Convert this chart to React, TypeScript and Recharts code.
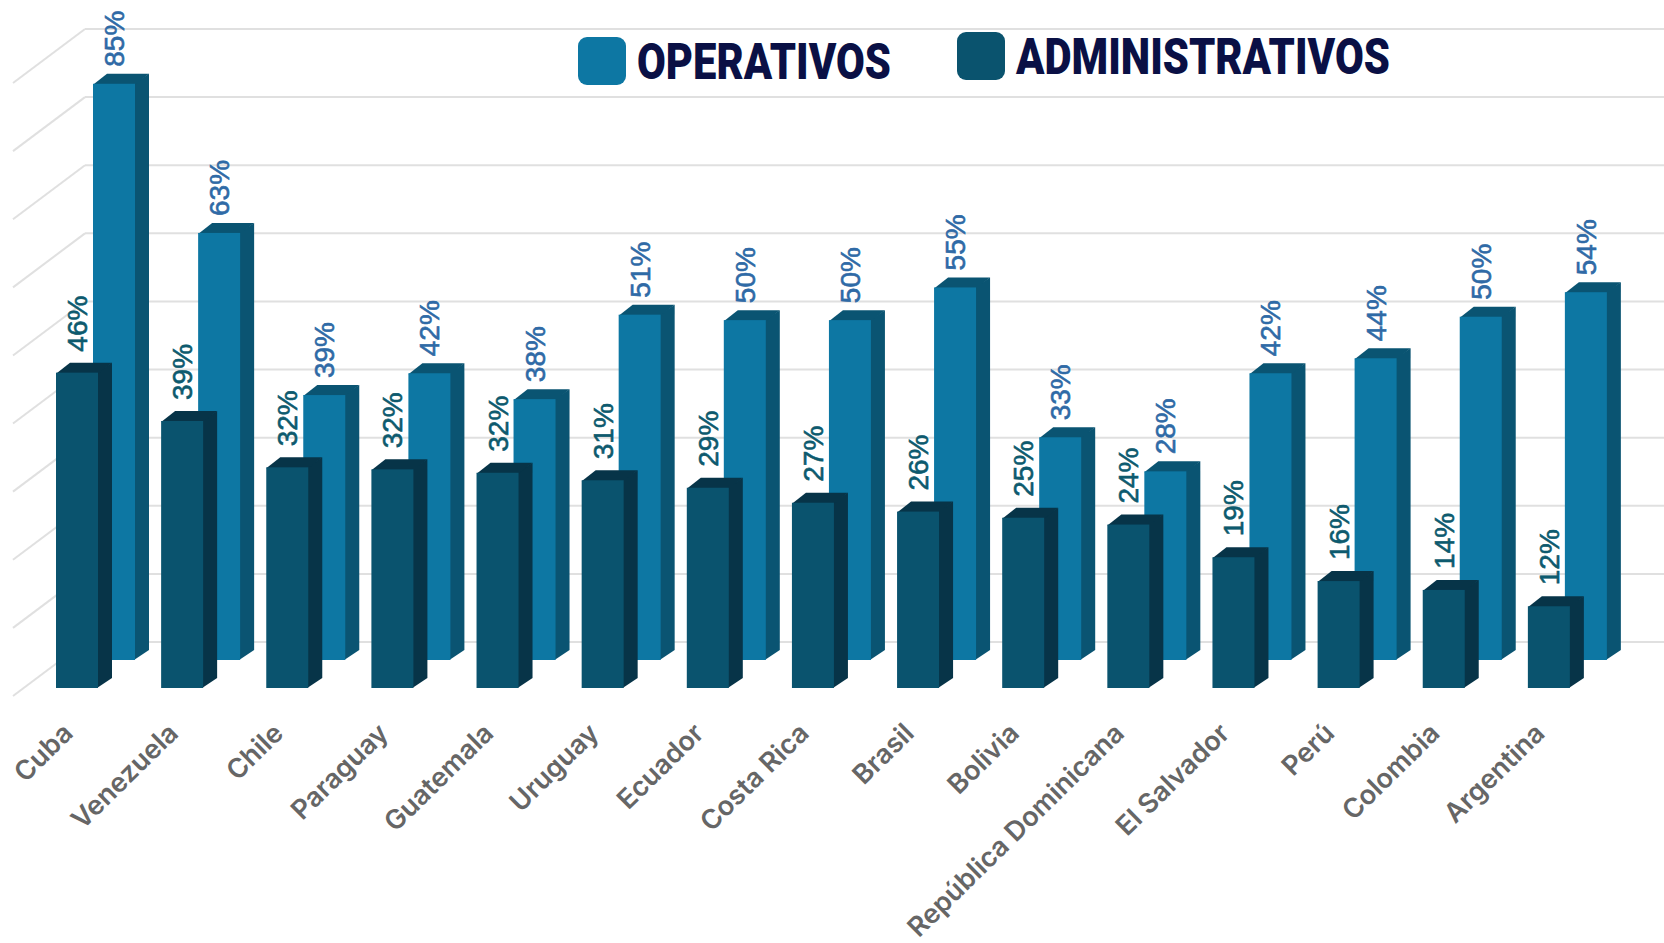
import { BarChart, Bar, XAxis, YAxis, CartesianGrid, LabelList, Legend } from "recharts";

const paises = ["Cuba", "Venezuela", "Chile", "Paraguay", "Guatemala", "Uruguay", "Ecuador", "Costa Rica", "Brasil", "Bolivia", "República Dominicana", "El Salvador", "Perú", "Colombia", "Argentina"];
// bar heights, the printed labels are these rounded
const administrativos = [46.3, 39.2, 32.4, 32.1, 31.6, 30.5, 29.4, 27.2, 25.9, 25, 24, 19.2, 15.7, 14.4, 12];
const operativos = [84.6, 62.7, 38.9, 42.1, 38.3, 50.7, 49.9, 49.9, 54.7, 32.7, 27.7, 42.1, 44.3, 50.4, 54];
const yTicks = [0, 10, 20, 30, 40, 50, 60, 70, 80, 90];

const chartData = paises.map((pais, i) => ({
  pais,
  administrativos: administrativos[i],
  operativos: operativos[i],
}));

// fake 3d: every bar is pushed off the back wall, the depth is drawn on its side and top
const DEPTH_X = 14;
const DEPTH_Y = 10;
const SHIFT_X = -42;
const OP_SHIFT_Y = 18;
const ADM_SHIFT_Y = 46;

function make3dBar(shiftY: number, front: string, side: string, top: string) {
  return function Bar3d(props: any) {
    const x = props.x + SHIFT_X;
    const y = props.y + shiftY;
    const w = props.width;
    const h = props.height;
    return (
      <g>
        <polygon points={`${x + w - 1},${y} ${x + w + DEPTH_X},${y - DEPTH_Y} ${x + w + DEPTH_X},${y + h - DEPTH_Y} ${x + w - 1},${y + h}`} fill={side} />
        <polygon points={`${x},${y + 1} ${x + DEPTH_X},${y - DEPTH_Y} ${x + w + DEPTH_X},${y - DEPTH_Y} ${x + w},${y + 1}`} fill={top} />
        <rect x={x} y={y} width={w} height={h} fill={front} />
      </g>
    );
  };
}

function makeLabel(shiftY: number, gap: number, color: string) {
  return function BarLabel(props: any) {
    const cx = props.x + SHIFT_X + props.width / 2 + 10;
    const cy = props.y + shiftY - DEPTH_Y - gap;
    return (
      <text x={cx} y={cy} transform={`rotate(-90 ${cx} ${cy})`} fill={color} stroke={color} strokeWidth={0.6} fontFamily="Liberation Sans" fontSize={28} textAnchor="start">
        {Math.round(props.value)}%
      </text>
    );
  };
}

// back wall line plus the stretch of floor running to the front left
function GridLine(props: any) {
  return (
    <g>
      <line x1={props.x1} y1={props.y1} x2={props.x2 + 2} y2={props.y2} stroke="#e0e0e0" strokeWidth={2} />
      <line x1={props.x1} y1={props.y1} x2={props.x1 - 72} y2={props.y1 + 54} stroke="#e0e0e0" strokeWidth={2} />
    </g>
  );
}

function NoTick() {
  return <g />;
}

function PaisTick(props: any) {
  const x = props.x - 63;
  const y = props.y + 85;
  return (
    <text x={x} y={y} transform={`rotate(-44.5 ${x} ${y})`} textAnchor="end" fill="#666666" fontFamily="Inter" fontWeight={600} fontSize={27}>
      {props.payload.value}
    </text>
  );
}

const legendPos = [
  { box: 578, boxY: 37, text: 637, textY: 79, len: 254 },
  { box: 957, boxY: 32, text: 1016, textY: 74, len: 374 },
];

function Leyenda({ payload }: any) {
  return (
    <svg width={1664} height={100} style={{ display: "block" }}>
      {(payload || []).map((item: any, i: number) => (
        <g key={item.value}>
          <rect x={legendPos[i].box} y={legendPos[i].boxY} width={48} height={48} rx={9} fill={item.color} />
          <text x={legendPos[i].text} y={legendPos[i].textY} textLength={legendPos[i].len} lengthAdjust="spacingAndGlyphs" fill="#0a1045" fontFamily="Roboto" fontWeight={900} fontSize={50}>
            {item.value}
          </text>
        </g>
      ))}
    </svg>
  );
}

export default function App() {
  return (
    <div style={{ position: "absolute", left: 0, top: 0, width: 1664, height: 943, background: "#fff" }}>
      <BarChart width={1664} height={943} data={chartData} margin={{ top: 29, right: 2, bottom: 0, left: 0 }} barSize={42} barGap={-79}>
        <CartesianGrid vertical={false} horizontal={GridLine} syncWithTicks />
        <XAxis dataKey="pais" axisLine={false} tickLine={false} interval={0} height={301} tick={PaisTick} />
        <YAxis domain={[0, 90]} ticks={yTicks} width={85} axisLine={false} tickLine={false} tick={NoTick} />
        <Legend layout="horizontal" verticalAlign="middle" itemSorter={null} content={Leyenda} wrapperStyle={{ position: "absolute", left: 0, top: 0, width: 1664 }} />
        <Bar dataKey="operativos" name="OPERATIVOS" fill="#0d77a3" isAnimationActive={false} shape={make3dBar(OP_SHIFT_Y, "#0d77a3", "#0a5472", "#0a5472")}>
          <LabelList dataKey="operativos" content={makeLabel(OP_SHIFT_Y, 7, "#2f6aa6")} />
        </Bar>
        <Bar dataKey="administrativos" name="ADMINISTRATIVOS" fill="#0a536e" isAnimationActive={false} shape={make3dBar(ADM_SHIFT_Y, "#0a536e", "#073448", "#073448")}>
          <LabelList dataKey="administrativos" content={makeLabel(ADM_SHIFT_Y, 11, "#0d5a6e")} />
        </Bar>
      </BarChart>
    </div>
  );
}
